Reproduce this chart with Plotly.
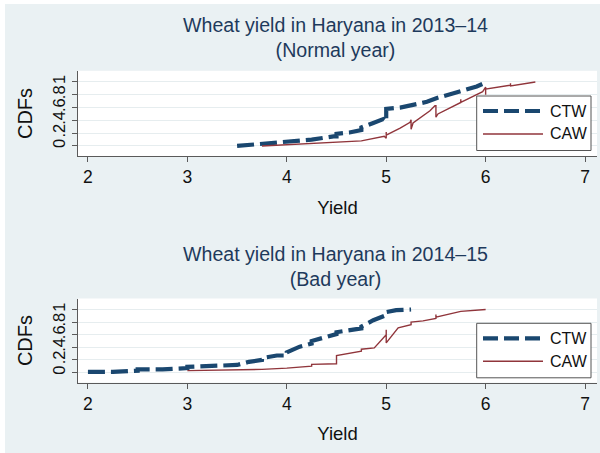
import plotly.graph_objects as go

# ---- data ----
x_ctw_1314 = [3.5, 3.75, 4.0, 4.25, 4.47, 4.5, 4.5, 4.63, 4.75, 4.75, 4.87, 4.97, 5.0, 5.0,
              5.14, 5.27, 5.41, 5.51, 5.64, 5.78, 5.91, 6.0]
y_ctw_1314 = [0.0, 0.03, 0.07, 0.10, 0.15, 0.15, 0.19, 0.21, 0.25, 0.29, 0.36, 0.42, 0.38, 0.58,
              0.60, 0.64, 0.69, 0.75, 0.81, 0.87, 0.93, 0.99]

x_caw_1314 = [3.75, 4.0, 4.25, 4.5, 4.75, 4.98, 5.0, 5.0, 5.0, 5.14, 5.24, 5.25, 5.25, 5.27,
              5.44, 5.49, 5.5, 5.5, 5.52, 5.75, 5.75, 5.75, 5.97, 6.0, 6.0, 6.0, 6.25, 6.25,
              6.25, 6.5]
y_caw_1314 = [0.0, 0.02, 0.03, 0.05, 0.08, 0.15, 0.12, 0.22, 0.17, 0.28, 0.37, 0.41, 0.26, 0.36,
              0.55, 0.63, 0.63, 0.45, 0.50, 0.68, 0.73, 0.68, 0.85, 0.92, 0.80, 0.89, 0.95, 0.98,
              0.94, 1.0]

x_ctw_1415 = [2.0, 2.25, 2.5, 2.5, 2.75, 3.0, 3.0, 3.25, 3.5, 3.62, 3.75, 3.75, 3.9, 4.0, 4.0,
              4.13, 4.25, 4.25, 4.4, 4.5, 4.5, 4.64, 4.75, 4.75, 4.87, 5.0, 5.0, 5.1, 5.25]
y_ctw_1415 = [0.01, 0.01, 0.03, 0.05, 0.05, 0.07, 0.09, 0.10, 0.12, 0.17, 0.20, 0.23, 0.27, 0.27,
              0.32, 0.41, 0.46, 0.50, 0.57, 0.61, 0.64, 0.67, 0.70, 0.73, 0.83, 0.91, 0.96, 0.99,
              1.0]

x_caw_1415 = [3.0, 3.5, 3.75, 4.0, 4.25, 4.25, 4.5, 4.5, 4.75, 4.75, 4.88, 5.0, 5.0, 5.0, 5.12,
              5.25, 5.25, 5.37, 5.5, 5.5, 5.5, 5.75, 6.0]
y_caw_1415 = [0.03, 0.04, 0.05, 0.07, 0.10, 0.13, 0.14, 0.27, 0.34, 0.37, 0.39, 0.60, 0.68, 0.47,
              0.71, 0.76, 0.80, 0.82, 0.86, 0.92, 0.88, 0.97, 1.0]

titles = ["Wheat yield in Haryana in 2013–14<br>(Normal year)",
          "Wheat yield in Haryana in 2014–15<br>(Bad year)"]
series_names = ["CTW", "CAW"]
y_tickvals = [0, 0.2, 0.4, 0.6, 0.8, 1.0]
y_ticktext = ["0", ".2", ".4", ".6", ".8", "1"]
x_tickvals = [2, 3, 4, 5, 6, 7]

# ---- styles ----
BG = "#EAF1F3"
NAVY = "#1A476F"
MAROON = "#90353B"
TITLE_C = "#1E3A5C"
AXIS_C = "#5a5a5a"
GRID_C = "#E6EDEF"
FONT = "Liberation Sans, Arial, sans-serif"
CTW_LINE = dict(color=NAVY, width=4.2, dash="17px,6px")
CAW_LINE = dict(color=MAROON, width=1.4)

W, H = 600, 453
def py(px):  # pixel-from-top -> paper y
    return 1 - px / H
def pxx(px):
    return px / W

fig = go.Figure()

panels = [
    (x_ctw_1314, y_ctw_1314, x_caw_1314, y_caw_1314, "x", "y"),
    (x_ctw_1415, y_ctw_1415, x_caw_1415, y_caw_1415, "x2", "y2"),
]
for xc, yc, xa, ya, xr, yr in panels:
    fig.add_trace(go.Scatter(x=xc, y=yc, mode="lines", name=series_names[0],
                             line=CTW_LINE, xaxis=xr, yaxis=yr,
                             showlegend=False, hoverinfo="skip"))
    fig.add_trace(go.Scatter(x=xa, y=ya, mode="lines", name=series_names[1],
                             line=CAW_LINE, xaxis=xr, yaxis=yr,
                             showlegend=False, hoverinfo="skip"))

xdom = [78 / W, 597 / W]
ydom_top = [py(156.2), py(70.8)]
ydom_bot = [py(382.6), py(298.5)]

xaxis_common = dict(range=[1.9, 7.12], tickvals=x_tickvals, ticks="outside", ticklen=5,
                    tickcolor=AXIS_C, showline=True, linecolor=AXIS_C, linewidth=1,
                    showgrid=False, zeroline=False,
                    tickfont=dict(family=FONT, size=17.5, color="#111"),
                    title=dict(text="Yield", font=dict(family=FONT, size=18.5, color="#111"),
                               standoff=14))
yaxis_common = dict(range=[-0.16, 1.175], tickvals=y_tickvals, ticktext=y_ticktext,
                    tickangle=-90, ticks="outside", ticklen=5, tickcolor=AXIS_C,
                    showline=True, linecolor=AXIS_C, linewidth=1,
                    showgrid=True, gridcolor=GRID_C, gridwidth=1, zeroline=False,
                    tickfont=dict(family=FONT, size=16.5, color="#111"),
                    title=dict(text="CDFs", font=dict(family=FONT, size=20, color="#111"),
                               standoff=12))

# legends drawn as boxes with sample lines (Stata-style long samples)
shapes = [
    dict(type="rect", xref="paper", yref="paper", x0=0, x1=5 / W, y0=0, y1=1,
         fillcolor="white", line=dict(width=0), layer="below"),
    dict(type="rect", xref="paper", yref="paper", x0=0, x1=1, y0=py(4), y1=1,
         fillcolor="white", line=dict(width=0), layer="below"),
]
annotations = [
    dict(text=titles[0], xref="paper", yref="paper", x=335 / W, y=py(38),
         xanchor="center", yanchor="middle", showarrow=False,
         font=dict(family=FONT, size=19.6, color=TITLE_C)),
    dict(text=titles[1], xref="paper", yref="paper", x=335 / W, y=py(266),
         xanchor="center", yanchor="middle", showarrow=False,
         font=dict(family=FONT, size=19.6, color=TITLE_C)),
]
for top in (96, 323.3):
    shapes.append(dict(type="rect", xref="paper", yref="paper",
                       x0=pxx(476.7), x1=pxx(591), y0=py(top + 54.5), y1=py(top),
                       fillcolor="white", line=dict(color="#555", width=1), layer="above"))
    for name, style, dy in ((series_names[0], CTW_LINE, 15), (series_names[1], CAW_LINE, 38)):
        ln = dict(color=style["color"], width=style["width"])
        if "dash" in style:
            ln["dash"] = "15px,6px"
        shapes.append(dict(type="line", xref="paper", yref="paper",
                           x0=pxx(483), x1=pxx(543), y0=py(top + dy), y1=py(top + dy),
                           line=ln, layer="above"))
        annotations.append(dict(text=name, xref="paper", yref="paper",
                                x=pxx(548), y=py(top + dy), xanchor="left", yanchor="middle",
                                showarrow=False,
                                font=dict(family=FONT, size=16, color="#111")))

fig.update_layout(
    width=W, height=H,
    margin=dict(l=0, r=0, t=0, b=0),
    paper_bgcolor=BG, plot_bgcolor="white",
    showlegend=False,
    xaxis=dict(domain=xdom, anchor="y", **xaxis_common),
    yaxis=dict(domain=ydom_top, anchor="x", **yaxis_common),
    xaxis2=dict(domain=xdom, anchor="y2", **xaxis_common),
    yaxis2=dict(domain=ydom_bot, anchor="x2", **yaxis_common),
    shapes=shapes,
    annotations=annotations,
)

fig.write_html("out.html")
